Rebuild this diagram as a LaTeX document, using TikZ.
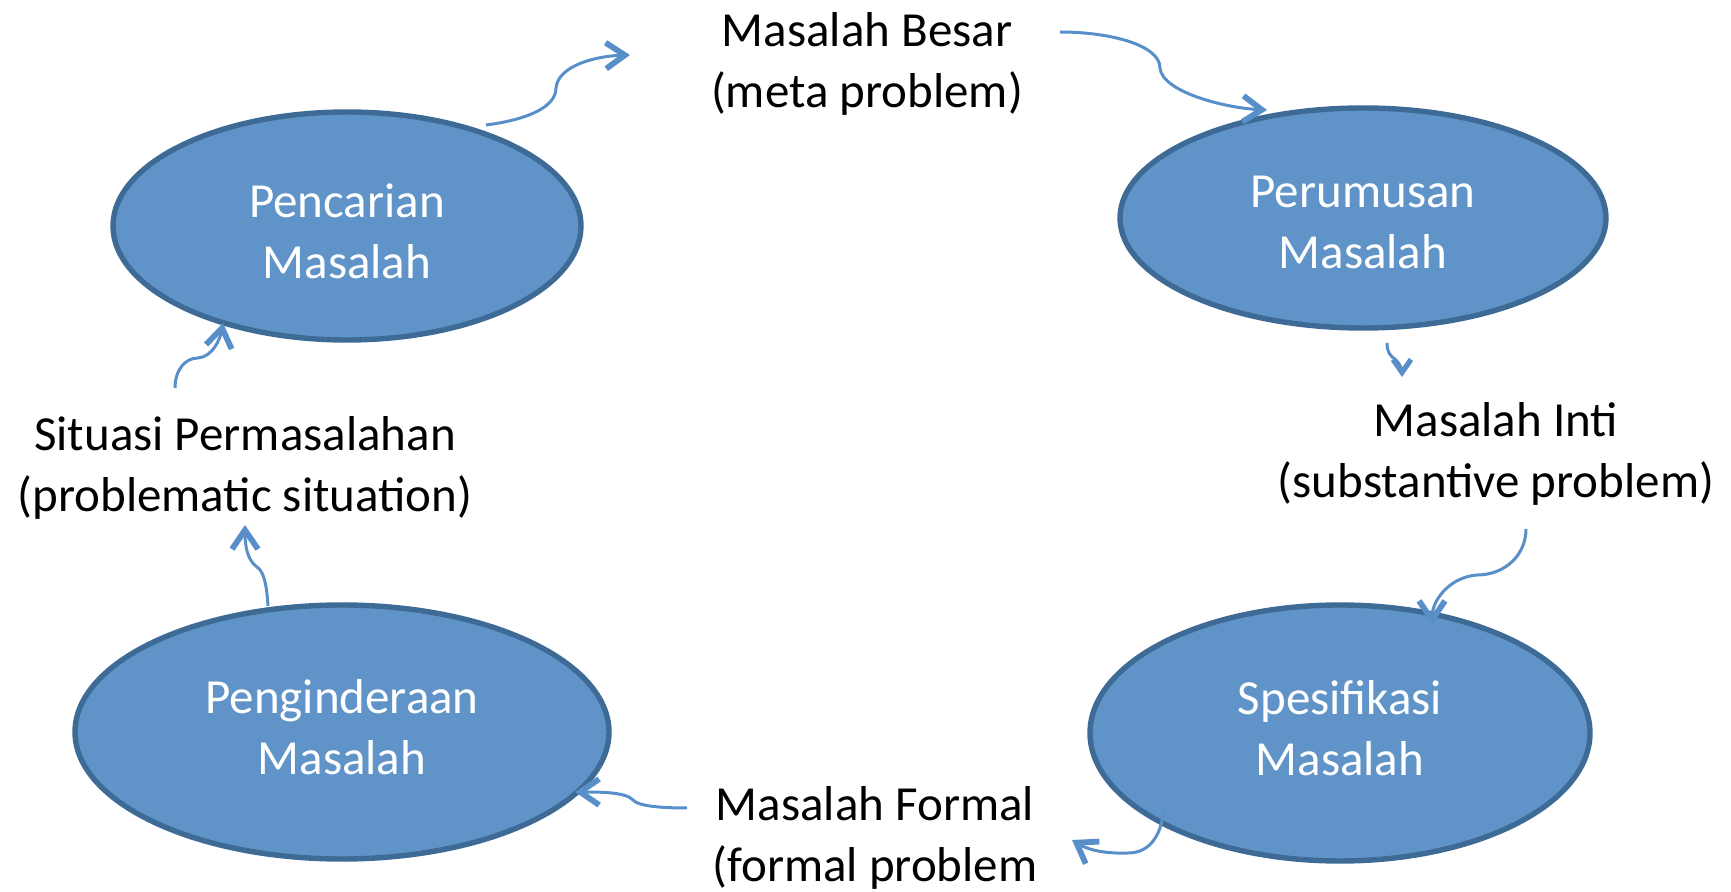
\documentclass[tikz,border=0pt]{standalone}
\usepackage{fontspec}
\setmainfont{Carlito}
\usetikzlibrary{arrows.meta,shapes.geometric}
\definecolor{efill}{RGB}{96,148,200}
\definecolor{edraw}{RGB}{62,106,150}
\definecolor{acol}{RGB}{88,143,201}
\tikzset{
  stage/.style={ellipse, draw=edraw, fill=efill, line width=2.7pt, inner sep=0pt},
  etext/.style={text=white, align=center, inner sep=0pt, font=\fontsize{24.5}{30.5}\selectfont},
  lbl/.style={align=center, inner sep=0pt, font=\fontsize{24.5}{30.5}\selectfont},
  conn/.style={draw=acol, line width=1.5pt, -{Straight Barb[length=9.5pt,width=13pt,line width=2.9pt]}},
  sconn/.style={draw=acol, line width=1.5pt, -{Straight Barb[length=6.5pt,width=9pt,line width=2.6pt]}}
}
\begin{document}
\begin{tikzpicture}[x=0.5pt,y=-0.5pt]
\useasboundingbox (0,0) rectangle (1731,892);
\node[stage, minimum width=234pt, minimum height=114pt,
  label={[etext,yshift=-2.7pt]center:{Pencarian\\Masalah}}] (pencarian) at (347,226) {};
\node[stage, minimum width=243pt, minimum height=110pt,
  label={[etext,yshift=-2.2pt]center:{Perumusan\\Masalah}}] (perumusan) at (1363,218) {};
\node[stage, minimum width=267pt, minimum height=127pt,
  label={[etext,yshift=2.2pt]center:{Penginderaan\\Masalah}}] (penginderaan) at (342,732) {};
\node[stage, minimum width=250pt, minimum height=128pt,
  label={[etext,yshift=2.2pt]center:{Spesifikasi\\Masalah}}] (spesifikasi) at (1340,733) {};
\node[lbl] (besar) at (867,63.5) {Masalah Besar\\(meta problem)};
\node[lbl] (inti) at (1496,453.5) {Masalah Inti\\(substantive problem)};
\node[lbl] (formal) at (875,837.5) {Masalah Formal\\(formal problem};
\node[lbl] (situasi) at (245,468) {Situasi Permasalahan\\(problematic situation)};
% connector end points
\coordinate (a1s) at (486,125); \coordinate (a1e) at (630,55);
\coordinate (a2s) at (1060,32); \coordinate (a2e) at (1267,110);
\coordinate (a3s) at (1387,343); \coordinate (a3e) at (1402,377);
\coordinate (a4s) at (1526,529); \coordinate (a4e) at (1432,625);
\coordinate (a5s) at (1164,807); \coordinate (a5e) at (1072,840);
\coordinate (a6s) at (687,808); \coordinate (a6e) at (575,792);
\coordinate (a7s) at (268,606); \coordinate (a7e) at (245,525);
\coordinate (a8s) at (175,388); \coordinate (a8e) at (223,323);
\draw[conn] (a1s) .. controls (525,120) and (556,108) .. (556,88) .. controls (558,66) and (595,56) .. (a1e);
\draw[conn] (a2s) .. controls (1110,32) and (1160,45) .. (1160,68) .. controls (1162,92) and (1225,108) .. (a2e);
\draw[sconn] (a3s) .. controls (1387,352) and (1390,356) .. (1396,360) .. controls (1400,364) and (1402,370) .. (a3e);
\draw[conn] (a4s) .. controls (1526,555) and (1505,575) .. (1477,575) .. controls (1450,577) and (1432,600) .. (a4e);
\draw[conn] (a5s) .. controls (1162,835) and (1150,853) .. (1128,853) .. controls (1100,854) and (1085,848) .. (a5e);
\draw[conn] (a6s) .. controls (660,808) and (638,806) .. (633,800) .. controls (626,792) and (600,792) .. (a6e);
\draw[conn] (a7s) .. controls (267,590) and (265,572) .. (257,567) .. controls (247,560) and (245,545) .. (a7e);
\draw[conn] (a8s) .. controls (175,370) and (185,358) .. (198,358) .. controls (212,357) and (220,340) .. (a8e);
\end{tikzpicture}
\end{document}
